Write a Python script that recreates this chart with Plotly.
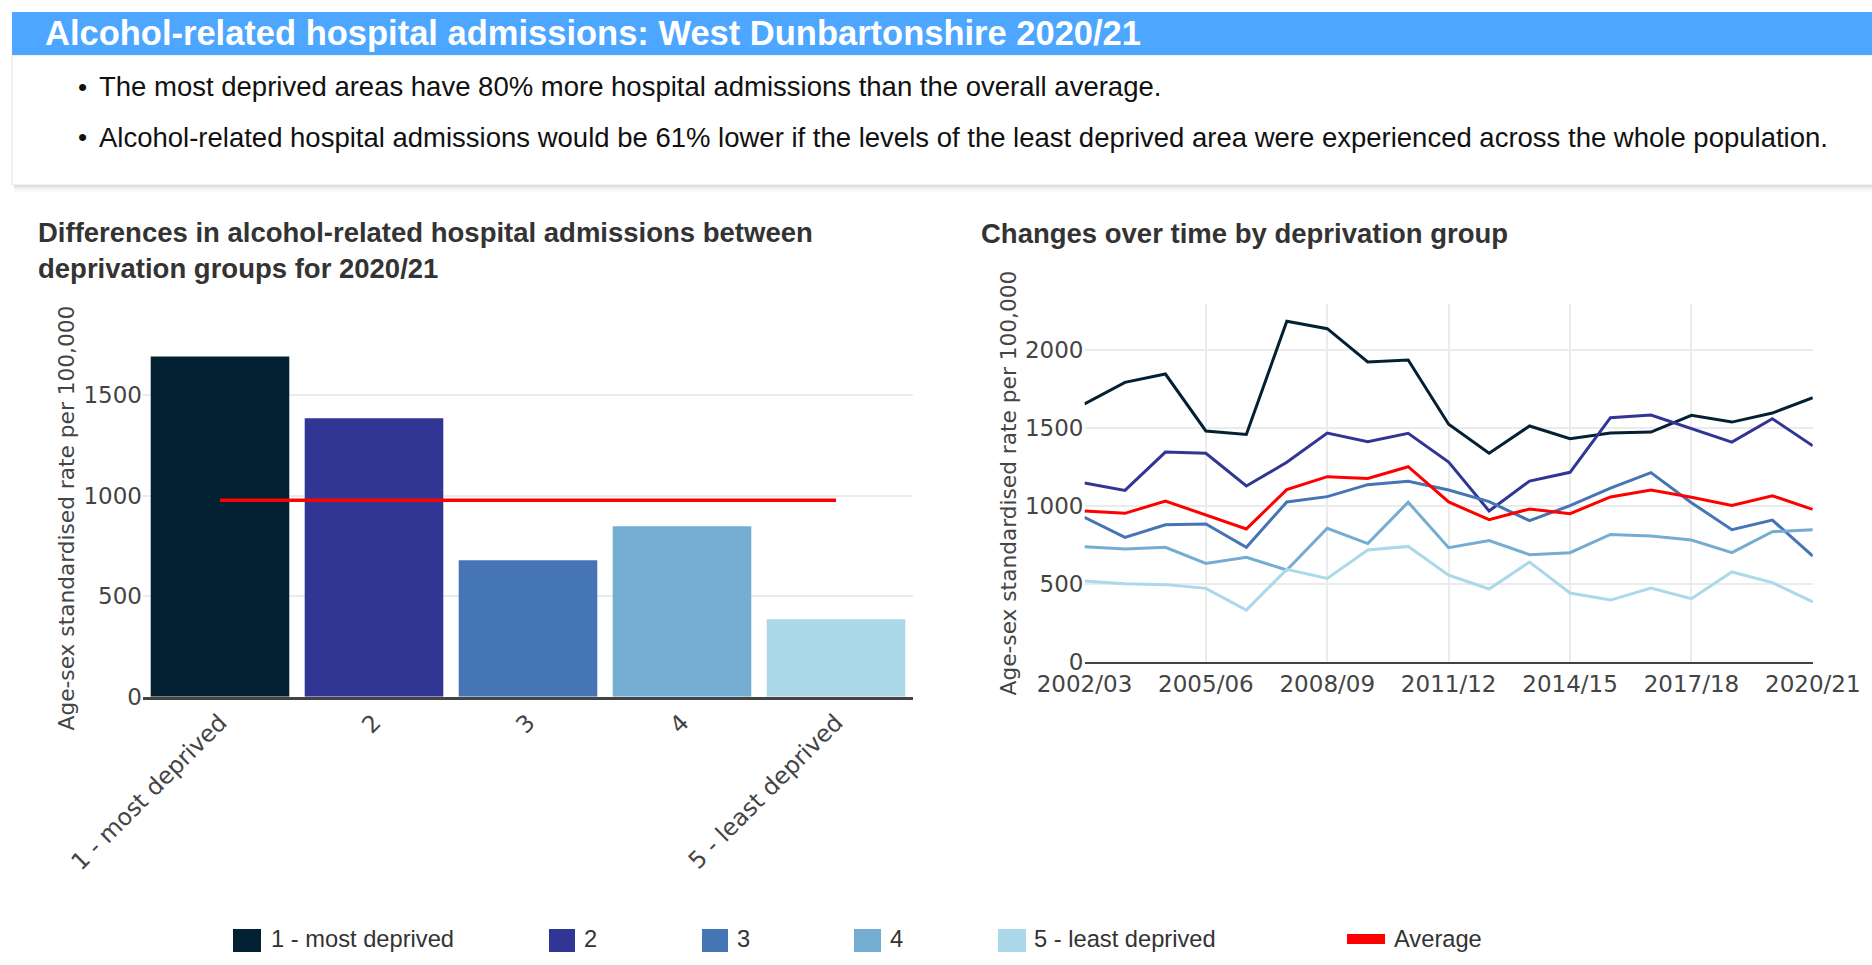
import plotly.graph_objects as go

# ---------------- data ----------------
groups = ["1 - most deprived", "2", "3", "4", "5 - least deprived"]
bar_values = [1694, 1386, 679, 848, 385]
average_2020 = 978
group_colors = ["#042033", "#313695", "#4575b4", "#74add1", "#abd9e9"]
average_color = "#ff0000"

years = ["2002/03", "2003/04", "2004/05", "2005/06", "2006/07", "2007/08", "2008/09",
         "2009/10", "2010/11", "2011/12", "2012/13", "2013/14", "2014/15", "2015/16",
         "2016/17", "2017/18", "2018/19", "2019/20", "2020/21"]
trend_q1 = [1654, 1793, 1846, 1481, 1459, 2184, 2137, 1923, 1936, 1524, 1338, 1513,
            1432, 1468, 1474, 1581, 1538, 1596, 1694]
trend_q2 = [1147, 1100, 1346, 1338, 1128, 1280, 1468, 1412, 1466, 1282, 968, 1160,
            1216, 1566, 1583, 1496, 1410, 1560, 1386]
trend_q3 = [927, 799, 880, 885, 735, 1026, 1060, 1137, 1158, 1103, 1028, 906,
            1002, 1115, 1214, 1021, 848, 910, 679]
trend_q4 = [739, 724, 735, 632, 671, 590, 857, 759, 1024, 733, 778, 688,
            701, 818, 808, 782, 701, 835, 848]
trend_q5 = [519, 502, 496, 472, 333, 594, 536, 718, 741, 556, 468, 641,
            442, 397, 474, 406, 577, 509, 385]
trend_avg = [968, 953, 1032, 940, 853, 1105, 1188, 1177, 1252, 1026, 912, 981,
             951, 1058, 1103, 1056, 1004, 1066, 978]
trend_series = [trend_q1, trend_q2, trend_q3, trend_q4, trend_q5]

header_title = "Alcohol-related hospital admissions: West Dunbartonshire 2020/21"
bullets = [
    "The most deprived areas have 80% more hospital admissions than the overall average.",
    "Alcohol-related hospital admissions would be 61% lower if the levels of the least deprived area were experienced across the whole population.",
]
left_title = "Differences in alcohol-related hospital admissions between<br>deprivation groups for 2020/21"
right_title = "Changes over time by deprivation group"
y_title = "Age-sex standardised rate per 100,000"
legend_labels = groups + ["Average"]

# ---------------- geometry helpers (page pixels -> paper) ----------------
FIG_W, FIG_H = 1872, 965
OFF = 0  # body margin is removed by the post script below


def px(X):
    return (X - OFF) / FIG_W


def py(Y):
    return 1 - (Y - OFF) / FIG_H


SANS = "Arial, Liberation Sans, sans-serif"
PLOT_FONT = "DejaVu Sans, Verdana, sans-serif"

fig = go.Figure()

# bar chart
fig.add_trace(go.Bar(x=groups, y=bar_values, marker=dict(color=group_colors, line=dict(width=0)),
                     xaxis="x", yaxis="y", showlegend=False, name="2020/21"))
fig.add_trace(go.Scatter(x=[groups[0], groups[-1]], y=[average_2020, average_2020], mode="lines",
                         line=dict(color=average_color, width=3.5), xaxis="x", yaxis="y",
                         showlegend=False, name="Average"))

# trend chart
for name, vals, col in zip(groups, trend_series, group_colors):
    fig.add_trace(go.Scatter(x=years, y=vals, mode="lines", line=dict(color=col, width=3),
                             xaxis="x2", yaxis="y2", showlegend=False, name=name))
fig.add_trace(go.Scatter(x=years, y=trend_avg, mode="lines", line=dict(color=average_color, width=3),
                         xaxis="x2", yaxis="y2", showlegend=False, name="Average"))

tick_font = dict(family=PLOT_FONT, size=23, color="#444")
bar_tick_font = dict(family=PLOT_FONT, size=23.5, color="#444")
title_font = dict(family=PLOT_FONT, size=21.7, color="#444")

fig.update_layout(
    width=FIG_W, height=FIG_H, autosize=False,
    margin=dict(l=0, r=0, t=0, b=0, pad=0, autoexpand=False),
    paper_bgcolor="white", plot_bgcolor="white",
    showlegend=False, bargap=0.1,
    xaxis=dict(domain=[px(143), px(913)], anchor="y", type="category", range=[-0.5, 4.5],
               tickangle=-45, tickfont=bar_tick_font, showgrid=False, zeroline=False,
               automargin=False, showline=True, linecolor="#444", linewidth=2.5, ticks=""),
    yaxis=dict(domain=[py(696.7), py(339.3)], anchor="x", range=[0, 1779], automargin=False,
               tickvals=[0, 500, 1000, 1500], tickfont=tick_font, showgrid=True,
               gridcolor="#ebebeb", gridwidth=2, zeroline=False, showline=False, ticks="",
               title=dict(text=y_title, font=title_font, standoff=2)),
    xaxis2=dict(domain=[px(1084.5), px(1812.8)], anchor="y2", type="category", range=[0, 18],
                tickvals=years[::3], tickfont=tick_font, showgrid=True, gridcolor="#ebebeb",
                automargin=False, gridwidth=2, zeroline=False, showline=True, linecolor="#444",
                linewidth=2, ticks=""),
    yaxis2=dict(domain=[py(662), py(304)], anchor="x2", range=[0, 2295], automargin=False,
                tickvals=[0, 500, 1000, 1500, 2000], tickfont=tick_font, showgrid=True,
                gridcolor="#ebebeb", gridwidth=2, zeroline=False, showline=False, ticks="",
                title=dict(text=y_title, font=title_font, standoff=2)),
)

shapes = []
# info box with shadow
for y0, y1, a in [(185, 187, 0.13), (187, 189, 0.07), (189, 192, 0.03)]:
    shapes.append(dict(type="rect", xref="paper", yref="paper", x0=px(14), x1=px(1872),
                       y0=py(y1), y1=py(y0), line=dict(width=0), fillcolor=f"rgba(0,0,0,{a})"))
shapes.append(dict(type="rect", xref="paper", yref="paper", x0=px(12), x1=px(1874),
                   y0=py(185), y1=py(55), line=dict(color="#e2e2e2", width=1), fillcolor="white"))
# header bar
shapes.append(dict(type="rect", xref="paper", yref="paper", x0=px(12), x1=px(1874),
                   y0=py(55), y1=py(12), line=dict(width=0), fillcolor="#4da6ff"))

# legend swatches
swatch_x = [(233, 261), (549, 575), (702, 728), (854, 881), (998, 1026)]
for (x0, x1), col in zip(swatch_x, group_colors):
    shapes.append(dict(type="rect", xref="paper", yref="paper", x0=px(x0), x1=px(x1),
                       y0=py(952), y1=py(929), line=dict(width=0), fillcolor=col))
shapes.append(dict(type="rect", xref="paper", yref="paper", x0=px(1347), x1=px(1385),
                   y0=py(944), y1=py(934), line=dict(width=0), fillcolor=average_color))
fig.update_layout(shapes=shapes)

ann = []
ann.append(dict(text=header_title, x=px(43), y=py(33.5), xref="paper", yref="paper",
                xanchor="left", yanchor="middle", showarrow=False,
                font=dict(family=SANS, size=34.5, color="white", weight="bold")))
for yy, txt in zip([87, 137], bullets):
    ann.append(dict(text="\u2022", x=px(76), y=py(yy), xref="paper", yref="paper",
                    xanchor="left", yanchor="middle", showarrow=False,
                    font=dict(family=SANS, size=26, color="#111")))
    ann.append(dict(text=txt, x=px(97), y=py(yy), xref="paper", yref="paper",
                    xanchor="left", yanchor="middle", showarrow=False,
                    font=dict(family=SANS, size=27.5, color="#111")))
ann.append(dict(text=left_title, x=px(36), y=py(250), xref="paper", yref="paper",
                xanchor="left", yanchor="middle", align="left", showarrow=False,
                font=dict(family=SANS, size=27.5, color="#333", weight="bold")))
ann.append(dict(text=right_title, x=px(979), y=py(233), xref="paper", yref="paper",
                xanchor="left", yanchor="middle", showarrow=False,
                font=dict(family=SANS, size=27.5, color="#333", weight="bold")))
legend_text_x = [269, 582, 735, 888, 1032, 1392]
for lx, lab in zip(legend_text_x, legend_labels):
    ann.append(dict(text=lab, x=px(lx), y=py(938.5), xref="paper", yref="paper",
                    xanchor="left", yanchor="middle", showarrow=False,
                    font=dict(family=SANS, size=23.7, color="#333")))
fig.update_layout(annotations=ann)

fig.write_html(
    "out.html",
    config={"displayModeBar": False},
    post_script="document.body.style.margin='0';document.body.style.overflow='hidden';",
)
